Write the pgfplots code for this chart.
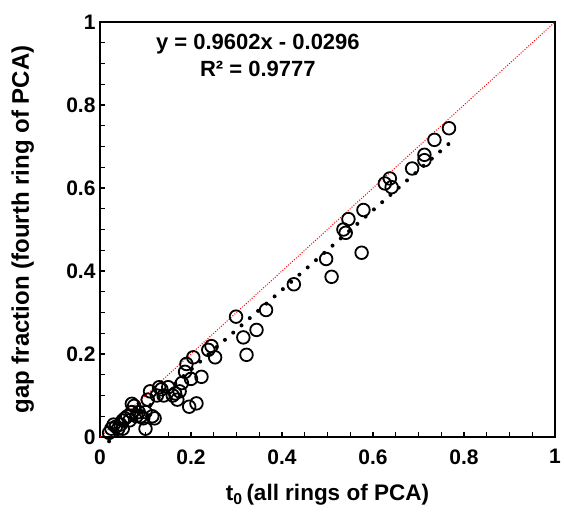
\documentclass[border=0pt]{standalone}
\usepackage{fontspec}
\setmainfont{Liberation Sans}
\usepackage{pgfplots}
\pgfplotsset{compat=1.18}

\begin{document}
\begin{tikzpicture}
  \useasboundingbox (-100pt,-87pt) rectangle (464pt,437pt);
  \begin{axis}[
      scale only axis,
      width=455pt, height=415pt,
      xmin=0, xmax=1, ymin=0, ymax=1,
      xtick={0,0.2,...,1}, ytick={0,0.2,...,1},
      minor tick num=3,
      tick align=inside,
      xtick pos=left, ytick pos=left,
      major tick length=5pt, minor tick length=5pt,
      every tick/.style={black, line width=1.2pt},
      axis line style={line width=1.6pt},
      /pgf/number format/assume math mode=true,
      ticklabel style={font=\bfseries\fontsize{21}{21}\selectfont},
      xticklabel style={yshift=-9pt},
      yticklabel style={xshift=-1pt},
      xlabel={t\textsubscript{0}\,(all rings of PCA)},
      ylabel={gap fraction (fourth ring of PCA)},
      xlabel style={font=\bfseries\fontsize{22.5}{22.5}\selectfont,
        at={(axis description cs:0.5,-0.14)}, anchor=center},
      ylabel style={font=\bfseries\fontsize{24}{24}\selectfont,
        at={(axis description cs:-0.17,0.5)}, anchor=center},
      clip=false,
    ]

    % 1:1 line
    \addplot[red, line width=1pt, dash pattern=on 1pt off 1.6pt] coordinates {(0,0) (1,1)};

    % measured points
    \addplot[only marks, mark=o, mark size=6.3pt, mark options={line width=1.8pt, black}]
    coordinates {
        (0.020,0.010) (0.025,0.020) (0.030,0.030) (0.035,0.025) (0.040,0.020)
        (0.045,0.030) (0.050,0.040) (0.050,0.020) (0.055,0.045) (0.060,0.050)
        (0.065,0.040) (0.070,0.060) (0.070,0.080) (0.075,0.075) (0.080,0.050)
        (0.085,0.060) (0.090,0.050) (0.095,0.045) (0.100,0.060) (0.100,0.020)
        (0.105,0.090) (0.110,0.110) (0.115,0.050) (0.120,0.045) (0.125,0.100)
        (0.130,0.120) (0.135,0.115) (0.140,0.100) (0.150,0.120) (0.160,0.100)
        (0.165,0.105) (0.170,0.090) (0.175,0.110) (0.180,0.130) (0.187,0.157)
        (0.190,0.176) (0.196,0.073) (0.200,0.140) (0.205,0.192) (0.212,0.081)
        (0.223,0.145) (0.238,0.210) (0.245,0.219) (0.253,0.192) (0.299,0.290)
        (0.315,0.240) (0.322,0.198) (0.344,0.258) (0.365,0.306) (0.426,0.368)
        (0.497,0.429) (0.509,0.386) (0.535,0.500) (0.540,0.492) (0.546,0.525)
        (0.575,0.444) (0.579,0.547) (0.626,0.611) (0.637,0.623) (0.641,0.602)
        (0.686,0.647) (0.713,0.667) (0.713,0.680) (0.735,0.716) (0.767,0.744)
      };

    % linear trend y = 0.9602x - 0.0296
    \addplot[black, line width=4pt, line cap=round, dash pattern=on 0pt off 11pt]
    coordinates {(0.020,-0.0104) (0.767,0.7069)};

    \node[font=\bfseries\fontsize{22}{22}\selectfont, align=center, anchor=north]
      at (axis cs:0.347,0.98) {y = 0.9602x - 0.0296\\[5pt]R² = 0.9777};
  \end{axis}
\end{tikzpicture}
\end{document}
